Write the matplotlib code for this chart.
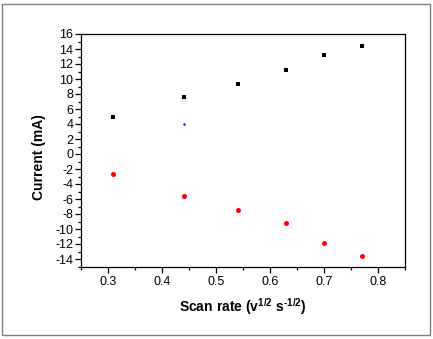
import matplotlib

matplotlib.use("Agg")
import matplotlib.pyplot as plt
from matplotlib.patches import Rectangle
from matplotlib.ticker import MultipleLocator

# square-root scan rate and peak currents
scan_rate = [0.31, 0.44, 0.54, 0.63, 0.70, 0.77]
anodic_current = [5.0, 7.6, 9.3, 11.2, 13.2, 14.4]
cathodic_current = [-2.6, -5.6, -7.45, -9.2, -11.85, -13.6]
stray_x = [0.44]
stray_y = [4.0]

plt.rcParams.update(
    {
        "font.family": ["Liberation Sans", "DejaVu Sans"],
        "mathtext.fontset": "custom",
        "mathtext.rm": "Liberation Sans:bold",
        "mathtext.bf": "Liberation Sans:bold",
        "mathtext.default": "bf",
        "xtick.labelsize": 9,
        "ytick.labelsize": 9,
    }
)

fig = plt.figure(figsize=(4.33, 3.39), dpi=100)
ax = fig.add_axes([81 / 433, 1 - 266.5 / 339, 324 / 433, 232.5 / 339])

ax.plot(scan_rate, anodic_current, "s", color="black", ms=3.3, mew=0)
ax.plot(scan_rate, cathodic_current, "o", color="red", ms=3.6, mew=0)
ax.plot(stray_x, stray_y, ".", color="blue", ms=1.5)

ax.set_xlim(0.25, 0.85)
ax.set_ylim(-15, 16)
ax.xaxis.set_major_locator(MultipleLocator(0.1))
ax.xaxis.set_minor_locator(MultipleLocator(0.05))
ax.yaxis.set_major_locator(MultipleLocator(2))
ax.yaxis.set_minor_locator(MultipleLocator(1))
ax.tick_params(which="major", direction="out", length=4, width=0.9, colors="black")
ax.tick_params(which="minor", direction="out", length=2.5, width=0.9)
ax.tick_params(axis="y", pad=1.5)
ax.tick_params(axis="x", pad=2.5)
ax.xaxis.set_major_formatter(lambda v, pos: f"{v:.1f}")
ax.yaxis.set_major_formatter(lambda v, pos: f"{v:.0f}".replace("\u2212", "-"))
for spine in ax.spines.values():
    spine.set_linewidth(0.9)

ax.set_ylabel("Current (mA)", fontsize=10, fontweight="bold")
ax.yaxis.set_label_coords(-0.107, 0.47)
ax.set_xlabel(
    "Scan rate (v$^{1/2}$ s$^{\\text{-1/2}}$)",
    fontsize=10,
    fontweight="bold",
    labelpad=6,
)

# outer frame around the whole figure
fig.patches.append(
    Rectangle(
        (2 / 433, 4 / 339),
        428 / 433,
        331 / 339,
        transform=fig.transFigure,
        fill=False,
        edgecolor="#808080",
        linewidth=1.0,
    )
)

fig.savefig("out.png", dpi=100)
